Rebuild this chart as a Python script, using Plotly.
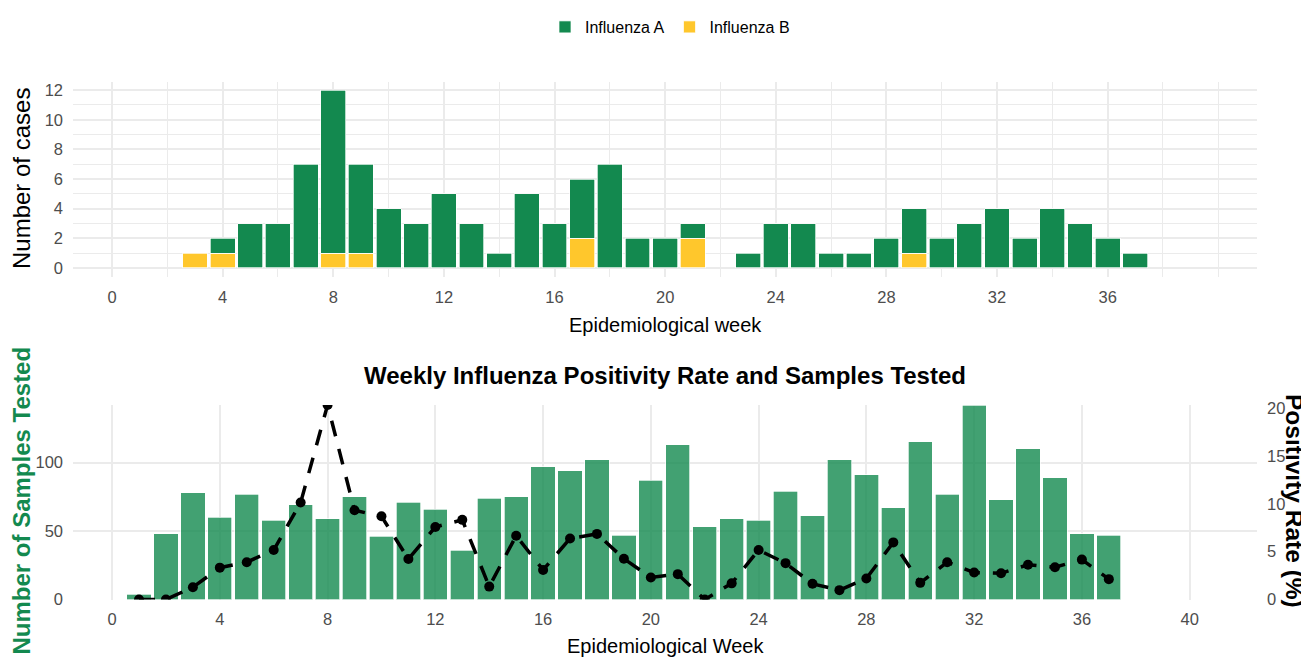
import plotly.graph_objects as go

# ---------------- data ----------------
weeks = list(range(1, 38))
flu_a = [0, 0, 0, 1, 3, 3, 7, 11, 6, 4, 3, 5, 3, 1, 5, 3, 4, 7, 2, 2,
         1, 0, 1, 3, 3, 1, 1, 2, 3, 2, 3, 4, 2, 4, 3, 2, 1]
flu_b = [0, 0, 1, 1, 0, 0, 0, 1, 1, 0, 0, 0, 0, 0, 0, 0, 2, 0, 0, 0,
         2, 0, 0, 0, 0, 0, 0, 0, 1, 0, 0, 0, 0, 0, 0, 0, 0]
samples = [4, 48, 78, 60, 77, 58, 69, 59, 75, 46, 71, 66, 36, 74, 75, 97, 94, 102, 47, 87,
           113, 53, 59, 58, 79, 61, 102, 91, 67, 115, 77, 142, 73, 110, 89, 48, 47]
positivity = [0.0, 0.0, 1.28, 3.33, 3.90, 5.17, 10.14, 20.34, 9.33, 8.70, 4.23, 7.58, 8.33,
              1.35, 6.67, 3.09, 6.38, 6.86, 4.26, 2.30, 2.65, 0.0, 1.69, 5.17, 3.80, 1.64,
              0.98, 2.20, 5.97, 1.74, 3.90, 2.82, 2.74, 3.64, 3.37, 4.17, 2.13]
top_xticks = [0, 4, 8, 12, 16, 20, 24, 28, 32, 36]
bottom_xticks = [0, 4, 8, 12, 16, 20, 24, 28, 32, 36, 40]
top_yticks = [0, 2, 4, 6, 8, 10, 12]
samples_ticks = [0, 50, 100]
rate_ticks = [0, 5, 10, 15, 20]

GREEN = "#13894F"
YELLOW = "#FFC72C"
FONT = "Liberation Sans, Arial, sans-serif"
GRID = "#EBEBEB"
TICKC = "#4D4D4D"

# the page body has an 8px margin; size the figure so it fills the window
OFF = 8
W, H = 1309 - OFF, 664 - OFF


def px_x(x):
    return (x - OFF) / W


def px_y(y):
    return 1 - (y - OFF) / H


fig = go.Figure()

# top: stacked cases
fig.add_trace(go.Bar(x=weeks, y=[v if v else None for v in flu_b], name="Influenza B",
                     marker=dict(color=YELLOW, line=dict(color="white", width=0.7)),
                     width=0.9, xaxis="x", yaxis="y", legendrank=2))
fig.add_trace(go.Bar(x=weeks, y=[v if v else None for v in flu_a], name="Influenza A",
                     marker=dict(color=GREEN, line=dict(color="white", width=0.7)),
                     width=0.9, xaxis="x", yaxis="y", legendrank=1))

# bottom: samples + positivity
fig.add_trace(go.Bar(x=weeks, y=samples, name="Samples tested", showlegend=False,
                     marker=dict(color="rgba(19,137,79,0.8)", line=dict(color="white", width=0.7)),
                     width=0.9, xaxis="x2", yaxis="y2"))
fig.add_trace(go.Scatter(x=weeks, y=positivity, name="Positivity rate", showlegend=False,
                         mode="lines+markers",
                         line=dict(color="black", width=3.5, dash="16px,13px"),
                         marker=dict(color="black", size=10),
                         xaxis="x2", yaxis="y3"))

xdom = [px_x(73), px_x(1257)]
tickfont = dict(family=FONT, size=16.5, color=TICKC)

fig.update_layout(
    width=W, height=H,
    margin=dict(l=0, r=0, t=0, b=0, pad=0, autoexpand=False),
    paper_bgcolor="white", plot_bgcolor="white",
    barmode="stack", bargap=0.1,
    showlegend=True,
    legend=dict(orientation="h", traceorder="normal", x=px_x(670), xanchor="center",
                y=px_y(27), yanchor="middle",
                font=dict(family=FONT, size=16, color="black"), itemwidth=30),
    xaxis=dict(domain=xdom, anchor="y", range=[-1.41, 41.4], tickvals=top_xticks,
               showgrid=True, gridcolor=GRID, gridwidth=1.6, zeroline=False,
               showline=False, ticks="", tickfont=tickfont, ticklabelstandoff=8,
               automargin=False,
               minor=dict(dtick=2, tick0=0, showgrid=True, gridcolor=GRID, gridwidth=0.9)),
    yaxis=dict(domain=[px_y(277), px_y(82)], anchor="x", range=[-0.61, 12.55],
               tickvals=top_yticks, showgrid=True, gridcolor=GRID, gridwidth=1.6,
               zeroline=False, showline=False, ticks="", tickfont=tickfont,
               ticklabelstandoff=9, automargin=False,
               minor=dict(dtick=1, tick0=0, showgrid=True, gridcolor=GRID, gridwidth=0.9)),
    xaxis2=dict(domain=xdom, anchor="y2", range=[-1.45, 42.5], tickvals=bottom_xticks,
                showgrid=True, gridcolor=GRID, gridwidth=1.6, zeroline=False,
                showline=False, ticks="", tickfont=tickfont, ticklabelstandoff=8,
                automargin=False),
    yaxis2=dict(domain=[px_y(599.5), px_y(405)], anchor="x2", range=[0, 142],
                tickvals=samples_ticks, showgrid=True, gridcolor=GRID, gridwidth=1.6,
                zeroline=False, showline=False, ticks="", tickfont=tickfont,
                ticklabelstandoff=9, automargin=False),
    yaxis3=dict(overlaying="y2", anchor="x2", side="right", range=[0, 20.34],
                tickvals=rate_ticks, showgrid=False, zeroline=False, showline=False,
                ticks="", tickfont=tickfont, ticklabelstandoff=9, automargin=False),
)

annotations = [
    dict(text="Number of cases", x=px_x(21), y=px_y(179), textangle=-90,
         font=dict(family=FONT, size=24, color="black")),
    dict(text="Epidemiological week", x=px_x(665), y=px_y(325),
         font=dict(family=FONT, size=20, color="black")),
    dict(text="<b>Weekly Influenza Positivity Rate and Samples Tested</b>", x=px_x(665),
         y=px_y(375), font=dict(family=FONT, size=24, color="black")),
    dict(text="<b>Number of Samples Tested</b>", x=px_x(21.5), y=px_y(501), textangle=-90,
         font=dict(family=FONT, size=24, color=GREEN)),
    dict(text="<b>Positivity Rate (%)</b>", x=px_x(1294), y=px_y(501), textangle=90,
         font=dict(family=FONT, size=24.5, color="black")),
    dict(text="Epidemiological Week", x=px_x(665), y=px_y(646),
         font=dict(family=FONT, size=20, color="black")),
]
for a in annotations:
    a.update(xref="paper", yref="paper", xanchor="center", yanchor="middle", showarrow=False)
fig.update_layout(annotations=annotations)

fig.write_html("out.html")
